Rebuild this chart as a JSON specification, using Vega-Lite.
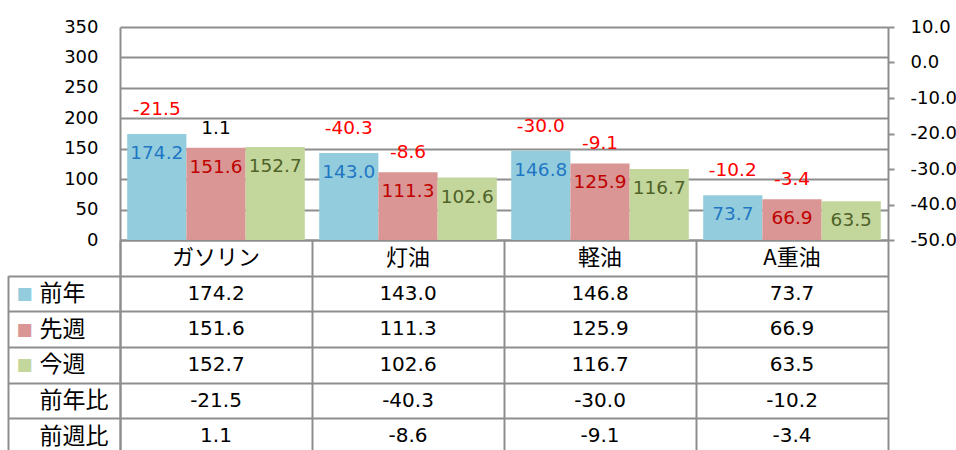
{
  "$schema": "https://vega.github.io/schema/vega-lite/v6.json",
  "width": 768,
  "height": 423,
  "autosize": {"type": "none"},
  "padding": {"left": 120, "top": 27, "right": 68, "bottom": 0},
  "background": "white",
  "config": {
    "view": {"stroke": null},
    "font": "DejaVu Sans",
    "locale": {"number": {"decimal": ".", "thousands": ",", "grouping": [3], "currency": ["", ""], "minus": "-"}}
  },
  "datasets": {
    "fuel": [
      {"cat": "ガソリン", "前年": 174.2, "先週": 151.6, "今週": 152.7, "前年比": -21.5, "前週比": 1.1},
      {"cat": "灯油", "前年": 143.0, "先週": 111.3, "今週": 102.6, "前年比": -40.3, "前週比": -8.6},
      {"cat": "軽油", "前年": 146.8, "先週": 125.9, "今週": 116.7, "前年比": -30.0, "前週比": -9.1},
      {"cat": "A重油", "前年": 73.7, "先週": 66.9, "今週": 63.5, "前年比": -10.2, "前週比": -3.4}
    ]
  },
  "data": {"name": "fuel"},
  "resolve": {
    "scale": {"x": "independent", "y": "independent", "color": "independent"},
    "axis": {"x": "independent", "y": "independent"}
  },
  "layer": [
    {
      "resolve": {"scale": {"color": "independent"}},
      "layer": [
        {
          "transform": [{"fold": ["前年", "先週", "今週"], "as": ["series", "value"]}],
          "mark": {"type": "bar"},
          "encoding": {
            "x": {"field": "cat", "type": "nominal", "scale": {"domain": ["ガソリン", "灯油", "軽油", "A重油"], "paddingInner": 0.075, "paddingOuter": 0.0375}, "axis": null},
            "xOffset": {"field": "series", "type": "nominal", "scale": {"domain": ["前年", "先週", "今週"]}},
            "y": {
              "field": "value", "type": "quantitative",
              "scale": {"domain": [0, 350], "range": [213, 0], "nice": false, "zero": false},
              "axis": {"orient": "left", "values": [0, 50, 100, 150, 200, 250, 300, 350], "grid": true, "gridColor": "#8e8e8e", "gridWidth": 2, "domain": true, "domainColor": "#8e8e8e", "domainWidth": 2, "ticks": false, "labelPadding": 22, "labelFont": "DejaVu Sans", "labelFontSize": 18, "labelColor": "black", "title": null}
            },
            "color": {"field": "series", "type": "nominal", "scale": {"domain": ["前年", "先週", "今週"], "range": ["#93CDDD", "#D99694", "#C3D69B"]}, "legend": null}
          }
        },
        {
          "transform": [{"fold": ["前年", "先週", "今週"], "as": ["series", "value"]}],
          "mark": {"type": "text", "font": "DejaVu Sans", "fontSize": 18.5, "baseline": "middle", "dy": 19},
          "encoding": {
            "x": {"field": "cat", "type": "nominal", "axis": null},
            "xOffset": {"field": "series", "type": "nominal"},
            "y": {"field": "value", "type": "quantitative"},
            "text": {"field": "value", "type": "quantitative", "format": ".1f"},
            "color": {"field": "series", "type": "nominal", "scale": {"domain": ["前年", "先週", "今週"], "range": ["#1F77C4", "#C00000", "#4F6228"]}, "legend": null}
          }
        },
        {
          "mark": {"type": "text", "font": "DejaVu Sans", "fontSize": 18.5, "baseline": "middle", "dy": -25, "color": "#FF0000"},
          "encoding": {
            "x": {"field": "cat", "type": "nominal", "axis": null},
            "xOffset": {"datum": "前年", "type": "nominal"},
            "y": {"field": "前年", "type": "quantitative"},
            "text": {"field": "前年比", "type": "quantitative", "format": ".1f"}
          }
        },
        {
          "mark": {"type": "text", "font": "DejaVu Sans", "fontSize": 18.5, "baseline": "middle", "dy": -20},
          "encoding": {
            "x": {"field": "cat", "type": "nominal", "axis": null},
            "xOffset": {"datum": "先週", "type": "nominal"},
            "y": {"field": "先週", "type": "quantitative"},
            "text": {"field": "前週比", "type": "quantitative", "format": ".1f"},
            "color": {"condition": {"test": "datum['前週比'] > 0", "value": "black"}, "value": "#FF0000"}
          }
        }
      ]
    },
    {
      "mark": {"type": "point", "opacity": 0},
      "encoding": {
        "y": {
          "field": "前年比", "type": "quantitative",
          "scale": {"domain": [-50, 10], "range": [213, 0], "nice": false, "zero": false},
          "axis": {"orient": "right", "values": [-50, -40, -30, -20, -10, 0, 10], "format": ".1f", "grid": false, "domain": true, "domainColor": "#8e8e8e", "domainWidth": 2, "ticks": true, "tickSize": 6, "tickColor": "#8e8e8e", "tickWidth": 2, "labelPadding": 16, "labelFont": "DejaVu Sans", "labelFontSize": 18, "labelColor": "black", "title": null}
        }
      }
    },
    {
      "layer": [
        {
          "transform": [{"fold": ["cat"], "as": ["row", "label"]}],
          "mark": {"type": "text", "font": "Noto Sans CJK JP", "fontSize": 22, "color": "black", "baseline": "middle"},
          "encoding": {
            "x": {
              "field": "cat", "type": "nominal",
              "scale": {"domain": ["ガソリン", "灯油", "軽油", "A重油"], "paddingInner": 0, "paddingOuter": 0},
              "axis": {"orient": "top", "tickBand": "extent", "grid": true, "gridColor": "#8e8e8e", "gridWidth": 2, "labels": false, "ticks": false, "domain": false, "title": null}
            },
            "y": {
              "field": "row", "type": "nominal",
              "scale": {"domain": ["cat", "前年", "先週", "今週", "前年比", "前週比"], "range": [213, 427], "paddingInner": 0, "paddingOuter": 0},
              "axis": {
                "orient": "left", "tickBand": "extent", "grid": true, "gridColor": "#8e8e8e", "gridWidth": 2,
                "domain": true, "domainColor": "#8e8e8e", "domainWidth": 2,
                "ticks": false,
                "labelExpr": "datum.value === 'cat' ? '' : datum.value",
                "labelAlign": "left", "labelPadding": 81, "labelFont": "Noto Sans CJK JP", "labelFontSize": 23, "labelColor": "black", "title": null
              }
            },
            "text": {"field": "label", "type": "nominal"}
          }
        },
        {
          "transform": [{"fold": ["前年", "先週", "今週", "前年比", "前週比"], "as": ["row", "v"]}],
          "mark": {"type": "text", "font": "DejaVu Sans", "fontSize": 20, "color": "black", "baseline": "middle"},
          "encoding": {
            "x": {"field": "cat", "type": "nominal"},
            "y": {"field": "row", "type": "nominal"},
            "text": {"field": "v", "type": "quantitative", "format": ".1f"}
          }
        }
      ]
    },
    {
      "transform": [{"fold": ["前年", "先週", "今週", "前年比", "前週比"], "as": ["row", "v"]}],
      "mark": {"type": "point", "opacity": 0},
      "encoding": {
        "x": {"field": "cat", "type": "nominal", "scale": {"domain": ["ガソリン", "灯油", "軽油", "A重油"], "range": [-112, 0]}, "axis": null},
        "y": {
          "field": "row", "type": "nominal",
          "scale": {"domain": ["前年", "先週", "今週", "前年比", "前週比"], "range": [248.67, 427], "paddingInner": 0, "paddingOuter": 0},
          "axis": {
            "orient": "left", "offset": 112, "domain": true, "domainColor": "#8e8e8e", "domainWidth": 2,
            "ticks": false, "grid": true, "tickBand": "extent", "gridColor": "#8e8e8e", "gridWidth": 2,
            "labelExpr": "indexof(['前年','先週','今週'], datum.value) >= 0 ? '■' : ''",
            "labelAlign": "left", "labelPadding": -8, "labelFont": "DejaVu Sans", "labelFontSize": 17,
            "labelColor": {"condition": [{"test": "datum.value === '前年'", "value": "#93CDDD"}, {"test": "datum.value === '先週'", "value": "#D99694"}], "value": "#C3D69B"},
            "title": null
          }
        }
      }
    }
  ]
}
